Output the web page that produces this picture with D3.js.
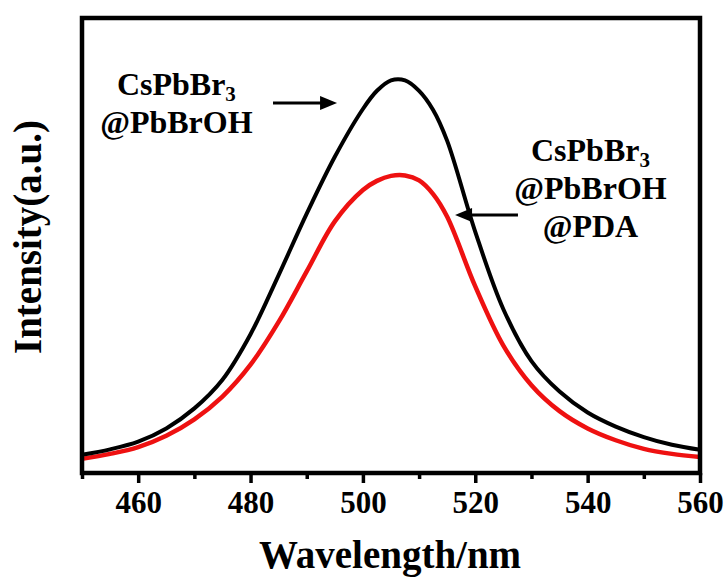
<!DOCTYPE html>
<html>
<head>
<meta charset="utf-8">
<script src="https://cdn.jsdelivr.net/npm/d3@7"></script>
<style>
  body { margin: 0; background: #fff; }
  svg text { font-family: "Liberation Serif", "Times New Roman", serif; font-weight: bold; }
</style>
</head>
<body>
<div id="chart"></div>
<script>
// wavelength (nm) and intensities
var wavelength = [450, 455, 460, 465, 470, 475, 480, 485, 490, 495, 500, 502.5, 505, 507.5, 510, 512.5, 515, 520, 525, 530, 535, 540, 545, 550, 555, 560];
var pbbroh     = [4.0, 5.2, 6.9, 9.8, 14.2, 20.5, 30.5, 43.5, 57.0, 69.5, 80.0, 84.0, 86.3, 86.3, 84.0, 79.8, 73.0, 53.0, 36.0, 24.6, 17.9, 13.3, 10.2, 7.9, 6.2, 5.1];
var pbbrohPda  = [3.1, 4.2, 5.7, 8.2, 11.8, 16.8, 23.8, 33.2, 44.3, 55.3, 62.2, 64.2, 65.3, 65.4, 64.3, 61.3, 56.3, 41.0, 28.0, 19.3, 13.6, 9.8, 7.2, 5.3, 4.2, 3.5];
var majorTicks = [460, 480, 500, 520, 540, 560];
var minorTicks = [450, 470, 490, 510, 530, 550];

var W = 728, H = 579;
var pLeft = 82, pRight = 700, pTop = 18, pBottom = 473;

var svg = d3.select("#chart").append("svg")
  .attr("width", W)
  .attr("height", H);

var x = d3.scaleLinear().domain([450, 560]).range([pLeft, pRight]);
var y = d3.scaleLinear().domain([0, 100]).range([pBottom, pTop]);

/* curves */
var line = d3.line()
  .x(function(d) { return x(d[0]); })
  .y(function(d) { return y(d[1]); })
  .curve(d3.curveCatmullRom.alpha(0.5));

svg.append("path")
  .datum(d3.zip(wavelength, pbbrohPda))
  .attr("d", line)
  .attr("fill", "none")
  .attr("stroke", "#ee1111")
  .attr("stroke-width", 4.5);

svg.append("path")
  .datum(d3.zip(wavelength, pbbroh))
  .attr("d", line)
  .attr("fill", "none")
  .attr("stroke", "#000")
  .attr("stroke-width", 4);

/* x axis with major + minor ticks */
var xAxis = d3.axisBottom(x).tickValues(majorTicks).tickSize(10).tickPadding(8);
var gx = svg.append("g")
  .attr("transform", "translate(0," + pBottom + ")")
  .call(xAxis);
gx.select(".domain").remove();
gx.selectAll(".tick line").attr("stroke", "#000").attr("stroke-width", 3.5);
gx.selectAll(".tick text")
  .attr("fill", "#000")
  .style("font-size", "31px");

var gm = svg.append("g")
  .attr("transform", "translate(0," + pBottom + ")")
  .call(d3.axisBottom(x).tickValues(minorTicks).tickSize(6).tickFormat(""));
gm.select(".domain").remove();
gm.selectAll(".tick line").attr("stroke", "#000").attr("stroke-width", 3.5);

/* frame */
svg.append("rect")
  .attr("x", pLeft)
  .attr("y", pTop)
  .attr("width", pRight - pLeft)
  .attr("height", pBottom - pTop)
  .attr("fill", "none")
  .attr("stroke", "#000")
  .attr("stroke-width", 4.5);

/* axis titles */
svg.append("text")
  .attr("x", 390)
  .attr("y", 568)
  .attr("text-anchor", "middle")
  .style("font-size", "39px")
  .text("Wavelength/nm");

svg.append("text")
  .attr("transform", "translate(41,237) rotate(-90)")
  .attr("text-anchor", "middle")
  .style("font-size", "39px")
  .text("Intensity(a.u.)");

/* annotations */
function label(cx, lines, y0) {
  lines.forEach(function(l, i) {
    var t = svg.append("text")
      .attr("x", x(cx))
      .attr("y", y0 + i * 38)
      .attr("text-anchor", "middle")
      .style("font-size", "32px");
    if (l === "CsPbBr3") {
      t.append("tspan").text("CsPbBr");
      t.append("tspan").attr("dy", 6).style("font-size", "21px").text("3");
    } else {
      t.text(l);
    }
  });
}
label(466.8, ["CsPbBr3", "@PbBrOH"], 95);
label(540.5, ["CsPbBr3", "@PbBrOH", "@PDA"], 161);

function arrow(x0, x1, yv) {
  var px0 = x(x0), px1 = x(x1), py = y(yv);
  var dir = px1 > px0 ? 1 : -1;
  svg.append("line")
    .attr("x1", px0).attr("y1", py)
    .attr("x2", px1 - dir * 12).attr("y2", py)
    .attr("stroke", "#000")
    .attr("stroke-width", 3);
  svg.append("path")
    .attr("d", "M" + px1 + "," + py + "L" + (px1 - dir * 17) + "," + (py - 7) + "L" + (px1 - dir * 17) + "," + (py + 7) + "Z")
    .attr("fill", "#000");
}
arrow(484.0, 495.4, 81.3);
arrow(527.6, 516.4, 56.7);
</script>
</body>
</html>
